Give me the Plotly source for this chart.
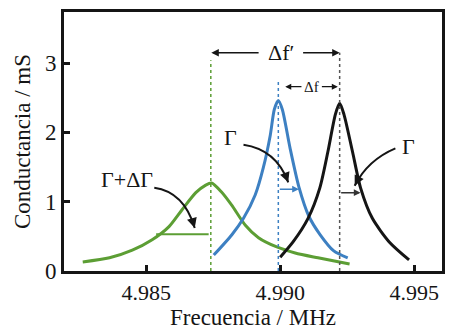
import plotly.graph_objects as go

# ---- data ----
green_f = [4.98263, 4.98363, 4.98448, 4.98522, 4.98585, 4.98633, 4.98685, 4.98722, 4.98744,
           4.98781, 4.98819, 4.98870, 4.98919, 4.98985, 4.99056, 4.99141, 4.99259]
green_g = [0.13, 0.19, 0.30, 0.45, 0.64, 0.88, 1.13, 1.24, 1.27,
           1.14, 0.95, 0.66, 0.48, 0.35, 0.26, 0.19, 0.10]

blue_f = [4.98752, 4.98819, 4.98863, 4.98907, 4.98937, 4.98963, 4.98978, 4.98993,
          4.99008, 4.99037, 4.99070, 4.99107, 4.99148, 4.99200, 4.99252]
blue_g = [0.23, 0.52, 0.76, 1.10, 1.49, 1.96, 2.33, 2.46,
          2.33, 1.77, 1.21, 0.79, 0.53, 0.29, 0.19]

black_f = [4.99000, 4.99048, 4.99104, 4.99148, 4.99178, 4.99206, 4.99222,
           4.99238, 4.99270, 4.99300, 4.99344, 4.99407, 4.99481]
black_g = [0.20, 0.42, 0.76, 1.20, 1.72, 2.26, 2.42,
           2.26, 1.72, 1.20, 0.76, 0.42, 0.16]

peak_f = {"green": 4.98741, "blue": 4.98993, "black": 4.99222}
guide_top = {"green": 3.04, "blue": 2.76, "black": 3.15}
hw_level = {"green": 0.53, "blue": 1.18, "black": 1.13}
hw_end = {"green": 4.98537, "blue": 4.99070, "black": 4.99300}

x_ticks = [4.985, 4.990, 4.995]
x_ticktext = ["4.985", "4.990", "4.995"]
y_ticks = [0, 1, 2, 3]

GREEN = "#5c9e34"
BLUE = "#3d80c2"
BLACK = "#151515"
FONT = "Liberation Serif"

fig = go.Figure()
for f, g, c in [(green_f, green_g, GREEN), (blue_f, blue_g, BLUE), (black_f, black_g, BLACK)]:
    fig.add_trace(go.Scatter(x=f, y=g, mode="lines", line=dict(color=c, width=3, shape="spline", smoothing=0.7),
                             hoverinfo="skip", showlegend=False))

# dotted guide lines at peaks
for key, c in [("green", GREEN), ("blue", BLUE), ("black", "#555555")]:
    fig.add_shape(type="line", xref="x", yref="y", x0=peak_f[key], x1=peak_f[key], y0=0, y1=guide_top[key],
                  line=dict(color=c, width=1.5, dash="dot"))

# half-width markers
fig.add_shape(type="line", xref="x", yref="y", x0=hw_end["green"], x1=peak_f["green"] - 0.00008,
              y0=hw_level["green"], y1=hw_level["green"], line=dict(color=GREEN, width=2))
for key, c in [("blue", BLUE), ("black", "#333333")]:
    fig.add_annotation(x=hw_end[key], y=hw_level[key], ax=peak_f[key], ay=hw_level[key],
                       xref="x", yref="y", axref="x", ayref="y", text="", showarrow=True,
                       arrowhead=2, arrowsize=0.9, arrowwidth=1.5, arrowcolor=c)

# Δf' arrows
yd = guide_top["black"]
fig.add_annotation(x=peak_f["green"] + 0.00002, y=yd, ax=4.98925, ay=yd, xref="x", yref="y", axref="x", ayref="y",
                   text="", showarrow=True, arrowhead=2, arrowsize=1, arrowwidth=1.5, arrowcolor=BLACK)
fig.add_annotation(x=peak_f["black"], y=yd, ax=4.99080, ay=yd, xref="x", yref="y", axref="x", ayref="y",
                   text="", showarrow=True, arrowhead=2, arrowsize=1, arrowwidth=1.5, arrowcolor=BLACK)
fig.add_annotation(x=4.99004, y=yd, text="Δf′", showarrow=False, font=dict(family=FONT, size=22, color=BLACK))

# Δf arrows
yd2 = 2.66
fig.add_annotation(x=4.99019, y=yd2, ax=4.99085, ay=yd2, xref="x", yref="y", axref="x", ayref="y",
                   text="", showarrow=True, arrowhead=2, arrowsize=1, arrowwidth=1.2, arrowcolor=BLACK)
fig.add_annotation(x=4.99215, y=yd2, ax=4.99150, ay=yd2, xref="x", yref="y", axref="x", ayref="y",
                   text="", showarrow=True, arrowhead=2, arrowsize=1, arrowwidth=1.2, arrowcolor=BLACK)
fig.add_annotation(x=4.99117, y=yd2, text="Δf", showarrow=False, font=dict(family=FONT, size=15, color=BLACK))

# curved pointer arrows and labels
pointers = [
    ((4.98530, 1.20), (4.98641, 1.14), (4.98681, 0.62), "Γ+ΔΓ", (4.98428, 1.32)),
    ((4.98863, 1.82), (4.98985, 1.75), (4.99030, 1.28), "Γ", (4.98815, 1.93)),
    ((4.99430, 1.77), (4.99326, 1.60), (4.99278, 1.23), "Γ", (4.99478, 1.80)),
]
for (s, c, e, label, lp) in pointers:
    fig.add_shape(type="path", xref="x", yref="y",
                  path=f"M {s[0]},{s[1]} Q {c[0]},{c[1]} {e[0]},{e[1]}",
                  line=dict(color=BLACK, width=2))
    t = 0.25
    fig.add_annotation(x=e[0], y=e[1], ax=e[0] + t * (c[0] - e[0]), ay=e[1] + t * (c[1] - e[1]),
                       xref="x", yref="y", axref="x", ayref="y", text="", showarrow=True,
                       arrowhead=2, arrowsize=1, arrowwidth=2, arrowcolor=BLACK)
    fig.add_annotation(x=lp[0], y=lp[1], text=label, showarrow=False,
                       font=dict(family=FONT, size=22, color=BLACK))

fig.update_layout(
    width=449, height=330,
    margin=dict(l=64, r=4, t=12, b=59),
    paper_bgcolor="white", plot_bgcolor="white",
    font=dict(family=FONT, size=21, color=BLACK),
    xaxis=dict(range=[4.98193, 4.99604], tickvals=x_ticks, ticktext=x_ticktext,
               ticks="inside", ticklen=6, tickwidth=2.5, tickcolor=BLACK,
               showline=True, linewidth=3, linecolor=BLACK, mirror=True, showgrid=False, zeroline=False,
               tickfont=dict(family=FONT, size=22, color=BLACK),
               title=dict(text="Frecuencia / MHz", font=dict(family=FONT, size=23), standoff=4)),
    yaxis=dict(range=[0, 3.737], tickvals=y_ticks,
               ticks="inside", ticklen=6, tickwidth=2.5, tickcolor=BLACK,
               showline=True, linewidth=3, linecolor=BLACK, mirror=True, showgrid=False, zeroline=False,
               tickfont=dict(family=FONT, size=23, color=BLACK),
               title=dict(text="Conductancia / mS", font=dict(family=FONT, size=23), standoff=8)),
)

fig.write_html("out.html", config={"displayModeBar": False},
               post_script="document.body.style.margin='0';document.body.style.overflow='hidden';")
